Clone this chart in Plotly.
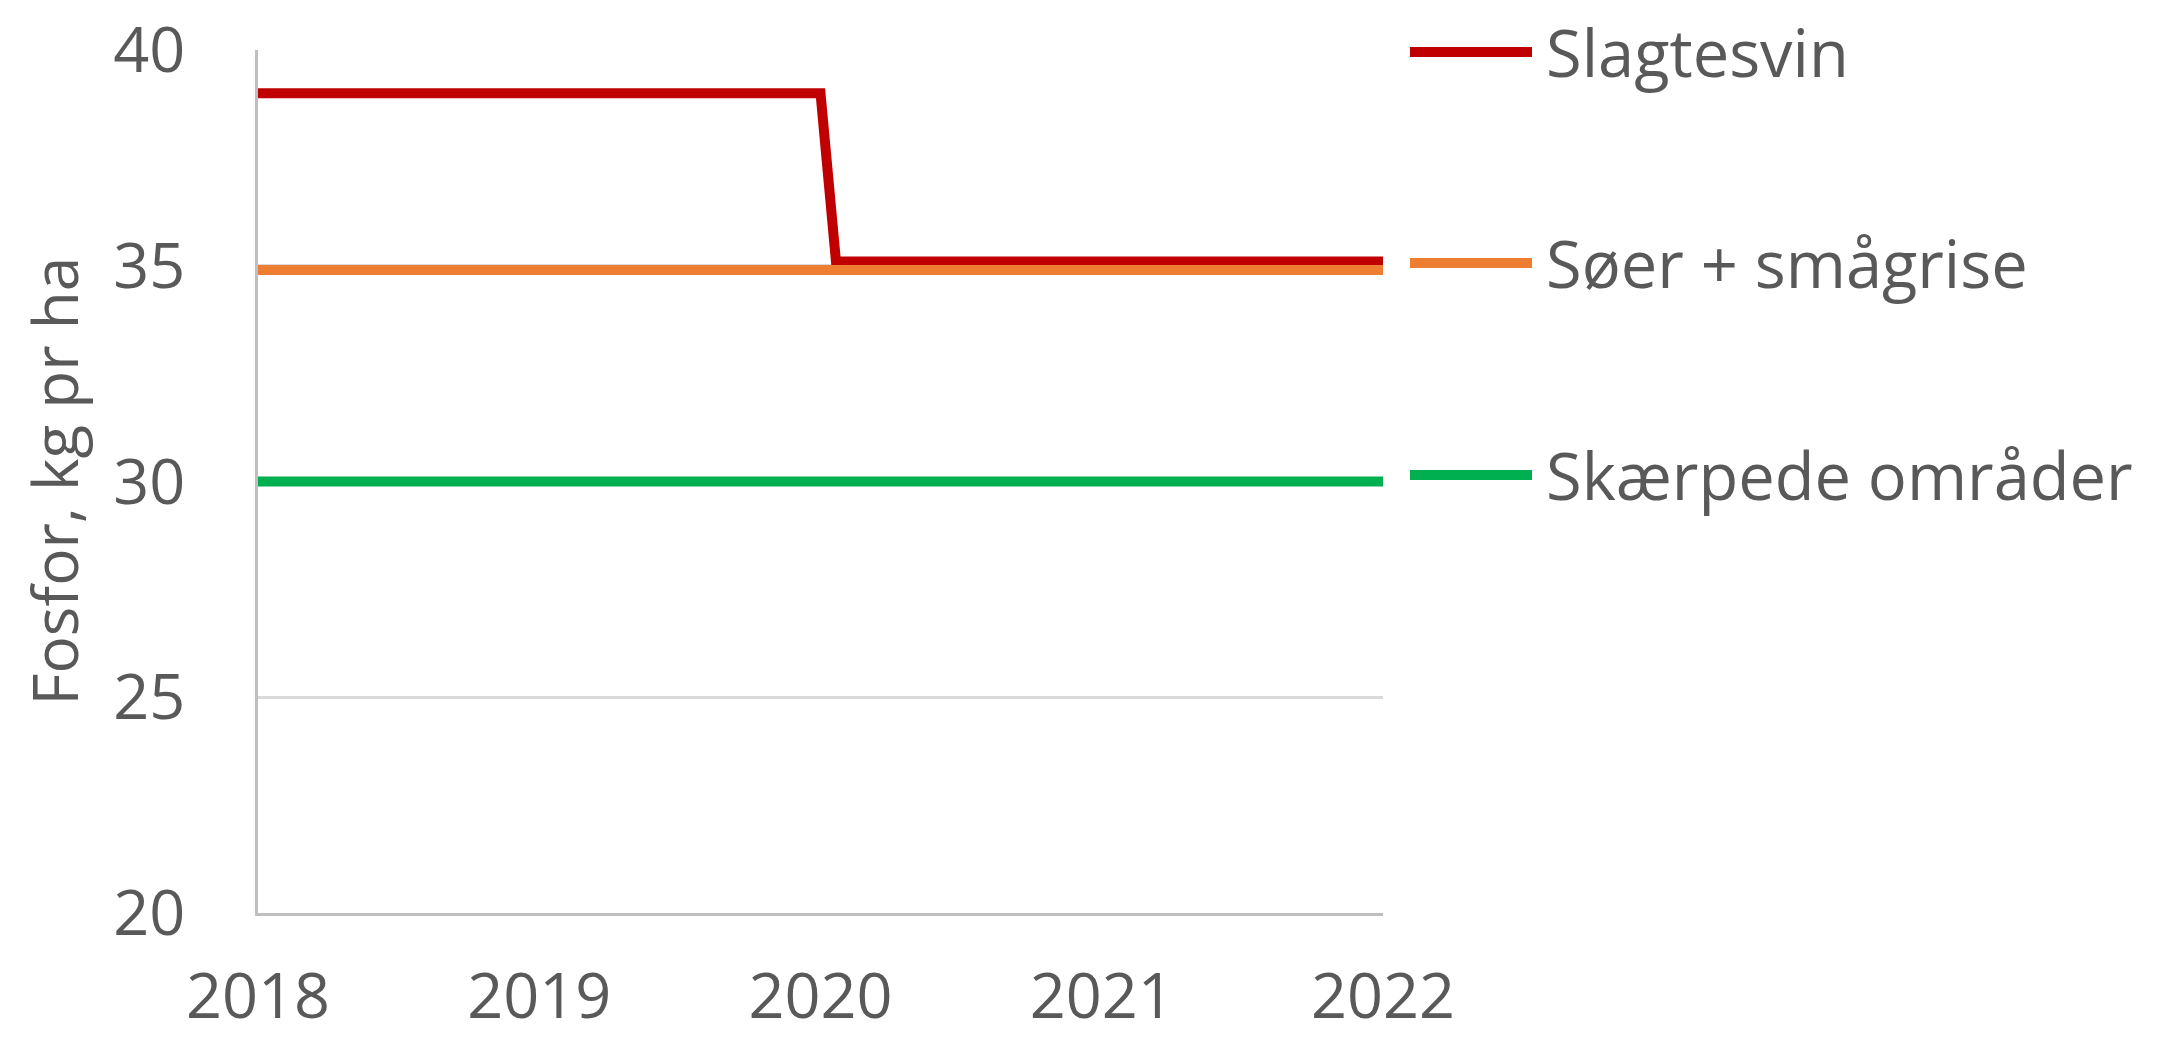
import plotly.graph_objects as go

# Data
years = [2018, 2019, 2020, 2021, 2022]
slagtesvin_x = [2018, 2020, 2020.055, 2022]
slagtesvin_y = [39, 39, 35.1, 35.1]
soer_x = [2018, 2022]
soer_y = [34.9, 34.9]
skaerpede_x = [2018, 2022]
skaerpede_y = [30, 30]
series_names = ["Slagtesvin", "Søer + smågrise", "Skærpede områder"]
colors = ["#c00000", "#ed7d31", "#00b050"]
y_ticks = [20, 25, 30, 35, 40]
y_title = "Fosfor, kg pr ha"

W, H = 2164, 1038
L, R, T, B = 258, 781, 50, 125
FONT = "Open Sans, Lato, sans-serif"
TXT = "#595959"
FS = 65

fig = go.Figure()
for xs, ys, name, c in zip([slagtesvin_x, soer_x, skaerpede_x],
                           [slagtesvin_y, soer_y, skaerpede_y], series_names, colors):
    fig.add_trace(go.Scatter(x=xs, y=ys, mode="lines", name=name,
                             line=dict(color=c, width=10), showlegend=False))

pw = W - L - R
ph = H - T - B
# legend drawn manually: rows in pixel positions
legend_rows = [52, 263, 475]
shapes = []
annotations = []
for name, c, ypx in zip(series_names, colors, legend_rows):
    yp = 1 - (ypx - T) / ph
    x0 = (1410 - L) / pw
    x1 = (1532 - L) / pw
    shapes.append(dict(type="line", xref="paper", yref="paper", x0=x0, x1=x1, y0=yp, y1=yp,
                       line=dict(color=c, width=10)))
    annotations.append(dict(xref="paper", yref="paper", x=(1544 - L) / pw, y=yp,
                            xanchor="left", yanchor="middle", text=name, showarrow=False,
                            font=dict(size=FS, color=TXT, family=FONT)))
annotations.append(dict(xref="paper", yref="paper", x=(53 - L) / pw, y=0.5,
                        xanchor="center", yanchor="middle", text=y_title, textangle=-90,
                        showarrow=False, font=dict(size=FS - 3, color=TXT, family=FONT)))

fig.update_layout(
    width=W, height=H,
    margin=dict(l=L, r=R, t=T, b=B, pad=0, autoexpand=False),
    paper_bgcolor="white", plot_bgcolor="white",
    font=dict(family=FONT, size=FS, color=TXT),
    shapes=shapes, annotations=annotations,
    xaxis=dict(range=[2018, 2022], tickvals=years, ticktext=[str(y) for y in years],
               showgrid=False, showline=True, linecolor="#bfbfbf", linewidth=3,
               ticks="", zeroline=False, ticklabelstandoff=26, automargin=False,
               ticklabeloverflow="allow",
               tickfont=dict(size=FS - 2, color=TXT, family=FONT)),
    yaxis=dict(range=[20, 40], tickvals=y_ticks, showgrid=True, gridcolor="#d9d9d9",
               gridwidth=3, showline=True, linecolor="#bfbfbf", linewidth=3,
               ticks="", zeroline=False, ticklabelstandoff=57, automargin=False,
               ticklabeloverflow="allow",
               tickfont=dict(size=FS - 2, color=TXT, family=FONT)),
)

fig.write_html("out.html", config={"displayModeBar": False},
               post_script="document.body.style.margin='0';")
